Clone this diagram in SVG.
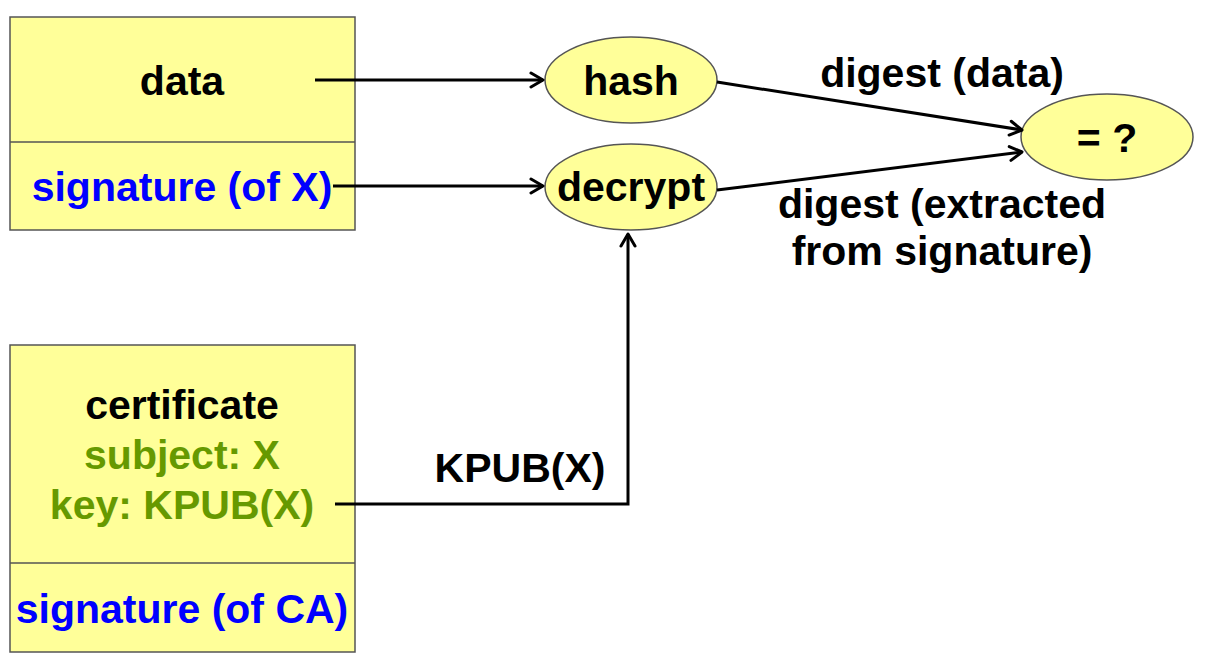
<svg xmlns="http://www.w3.org/2000/svg" width="1208" height="666" viewBox="0 0 1208 666">
<defs>
<marker id="arr" viewBox="0 0 20 20" refX="18" refY="10" markerWidth="20" markerHeight="20" markerUnits="userSpaceOnUse" orient="auto">
<path d="M6,3 L18,10 L6,17" fill="none" stroke="#000" stroke-width="3" stroke-linecap="round" stroke-linejoin="round"/>
</marker>
</defs>
<style>
.box{fill:#FFFF99;stroke:#555;stroke-width:1.5}
.t{font-family:"Liberation Sans",Arial,sans-serif;font-weight:bold;font-size:41px;text-anchor:middle}
.k{fill:#000}
.b{fill:#0000FF}
.g{fill:#669900}
.c{fill:none;stroke:#000;stroke-width:3;marker-end:url(#arr)}
</style>
<rect width="1208" height="666" fill="#fff"/>
<g id="data-box">
<rect class="box" x="10" y="17" width="345" height="213"/>
<line x1="10" y1="142" x2="355" y2="142" stroke="#555" stroke-width="1.5"/>
<text class="t k" x="182" y="95">data</text>
<text class="t b" x="182" y="201">signature (of X)</text>
</g>
<g id="cert-box">
<rect class="box" x="10" y="345" width="345" height="307"/>
<line x1="10" y1="563" x2="355" y2="563" stroke="#555" stroke-width="1.5"/>
<text class="t k" x="182" y="419">certificate</text>
<text class="t g" x="182" y="469">subject: X</text>
<text class="t g" x="182" y="519">key: KPUB(X)</text>
<text class="t b" x="182" y="623">signature (of CA)</text>
</g>
<g id="hash">
<ellipse class="box" cx="631" cy="80" rx="86" ry="43"/>
<text class="t k" x="631" y="95">hash</text>
</g>
<g id="decrypt">
<ellipse class="box" cx="631" cy="187" rx="86" ry="43"/>
<text class="t k" x="631" y="201">decrypt</text>
</g>
<g id="compare">
<ellipse class="box" cx="1107" cy="137" rx="86" ry="43"/>
<text class="t k" x="1107" y="152">= ?</text>
</g>
<g id="connectors">
<line class="c" x1="315" y1="80" x2="543" y2="80"/>
<line class="c" x1="333" y1="186" x2="543" y2="186"/>
<line class="c" x1="717" y1="82" x2="1022" y2="130"/>
<line class="c" x1="717" y1="190" x2="1022" y2="152"/>
<polyline class="c" points="335,504 628,504 628,234"/>
</g>
<g id="labels">
<text class="t k" x="942" y="87">digest (data)</text>
<text class="t k" x="942" y="218">digest (extracted</text>
<text class="t k" x="942" y="265">from signature)</text>
<text class="t k" x="520" y="482">KPUB(X)</text>
</g>
</svg>
